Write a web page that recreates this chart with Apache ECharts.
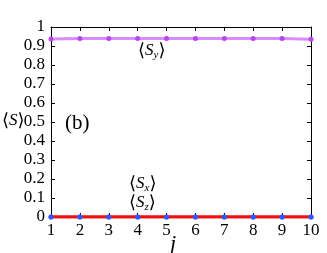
<!DOCTYPE html>
<html><head><meta charset="utf-8">
<script src="https://cdn.jsdelivr.net/npm/echarts@6/dist/echarts.min.js"></script>
<style>html,body{margin:0;padding:0;background:#fff}#c{width:327px;height:253px}</style>
</head><body><div id="c"></div>
<script>
const sites = [1,2,3,4,5,6,7,8,9,10];
const Sy = [0.937,0.94,0.94,0.94,0.94,0.94,0.94,0.94,0.94,0.935];
const Sx = [0,0,0,0,0,0,0,0,0,0];
const Sz = [0,0,0,0,0,0,0,0,0,0];
const yTicks = [0,0.1,0.2,0.3,0.4,0.5,0.6,0.7,0.8,0.9,1];

const F = 'Liberation Serif';
const chart = echarts.init(document.getElementById('c'));
const pair = (xs, ys) => xs.map((x,i)=>[x, ys[i]]);
const axBase = {
  axisLine:{show:true,onZero:false,lineStyle:{color:'#000',width:1}},
  axisTick:{show:true,inside:true,length:4,lineStyle:{color:'#000'}},
  splitLine:{show:false}
};
const lab = {a:{fontFamily:F,fontSize:17,color:'#000'}};
const sub = {i:{fontFamily:F,fontStyle:'italic',fontSize:17},
             s:{fontFamily:F,fontStyle:'italic',fontSize:11,verticalAlign:'bottom',padding:[8,0,0,0]},
             b:{fontFamily:'DejaVu Serif',fontSize:18}};
chart.setOption({
  animation:false,
  textStyle:{fontFamily:F,fontSize:16,color:'#000'},
  grid:{left:51,right:16,top:27,bottom:36},
  xAxis:[
    Object.assign({type:'value',min:1,max:10,interval:1,position:'bottom',
      axisLabel:{color:'#000',fontFamily:F,fontSize:17,margin:5,rich:lab,
        formatter:v=>'{a|'+v+'}'}},axBase),
    Object.assign({type:'value',min:1,max:10,interval:1,position:'top',axisLabel:{show:false}},axBase)
  ],
  yAxis:[
    Object.assign({type:'value',min:0,max:1,interval:0.1,position:'left',
      axisLabel:{color:'#000',fontFamily:F,fontSize:17,margin:6,rich:lab,
        formatter:v=>{const t=yTicks.find(y=>Math.abs(y-v)<1e-9);return t===undefined?'':'{a|'+t+'}';}}},axBase),
    Object.assign({type:'value',min:0,max:1,interval:0.1,position:'right',axisLabel:{show:false}},axBase)
  ],
  series:[
    {type:'line',data:pair(sites,Sy),symbol:'circle',symbolSize:5,
      lineStyle:{color:'rgba(204,102,255,0.75)',width:3},itemStyle:{color:'#bb44ee'}},
    {type:'line',data:pair(sites,Sx),symbol:'circle',symbolSize:5,
      lineStyle:{color:'#ee1111',width:3},itemStyle:{color:'#3355ff'}},
    {type:'line',data:pair(sites,Sz),symbol:'circle',symbolSize:5,
      lineStyle:{color:'#ee1111',width:3},itemStyle:{color:'#3355ff'}}
  ],
  graphic:[
    {type:'text',left:138,top:42,style:{text:'{b|⟨}{i|S}{s|y}{b|⟩}',fill:'#000',rich:sub}},
    {type:'text',left:129,top:175,style:{text:'{b|⟨}{i|S}{s|x}{b|⟩}',fill:'#000',rich:sub}},
    {type:'text',left:129,top:194,style:{text:'{b|⟨}{i|S}{s|z}{b|⟩}',fill:'#000',rich:sub}},
    {type:'text',left:65,top:113,style:{text:'(b)',fontFamily:F,fontSize:21,fill:'#000'}},
    {type:'text',left:2,top:112,style:{text:'{b|⟨}{i|S}{b|⟩}',fill:'#000',rich:sub}},
    {type:'text',left:170,top:233,style:{text:'j',fontFamily:F,fontStyle:'italic',fontSize:22,fill:'#000'}}
  ]
});
</script></body></html>
